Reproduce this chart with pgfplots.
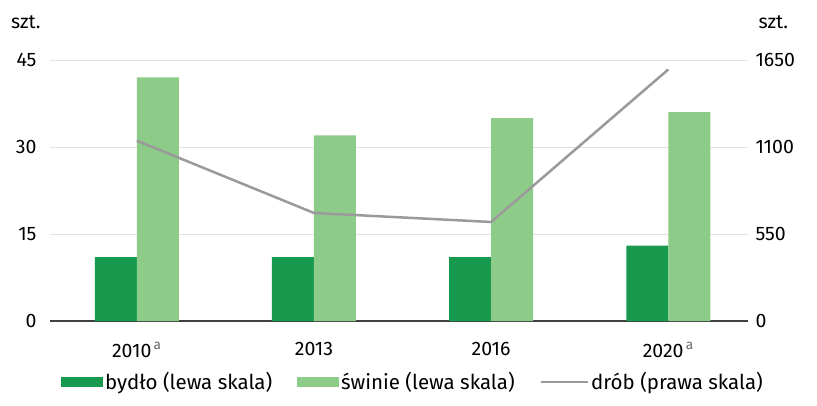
\documentclass[border=0pt]{standalone}
\usepackage{pgfplots}
\pgfplotsset{compat=1.18}
\usepackage{fontspec}
\setmainfont{Fira Sans}
\definecolor{dgreen}{HTML}{189A4E}
\definecolor{lgreen}{HTML}{8DCB88}
\definecolor{lgray}{HTML}{9A9A9A}
\definecolor{gridc}{HTML}{E2E2E2}
\begin{document}
\begin{tikzpicture}
\pgfplotsset{
  every axis/.append style={
    scale only axis, width=698pt, height=261pt,
    xmin=-0.49, xmax=3.45,
    font=\fontsize{19.5}{23}\selectfont,
    /pgf/number format/assume math mode=true,
    /pgf/number format/1000 sep={},
  }
}
\begin{axis}[
  name=left,
  ymin=0, ymax=45, ytick={0,15,30,45},
  xtick={0,1,2,3},
  xticklabels={2010\textsuperscript{\,\color{black!60}a},2013,2016,2020\textsuperscript{\,\color{black!60}a}},
  axis x line*=bottom, axis y line*=left,
  axis line style={-},
  x axis line style={draw=black!75, line width=1.3pt},
  y axis line style={draw=none},
  major tick length=0pt,
  ymajorgrids, grid style={gridc, line width=1pt},
  yticklabel style={xshift=-10pt},
  xticklabel style={yshift=-18pt},
  ybar, bar width=42pt,
]
\addplot[fill=dgreen, draw=none, bar shift=-21pt] coordinates {(0,11) (1,11) (2,11) (3,13)};
\addplot[fill=lgreen, draw=none, bar shift=21pt] coordinates {(0,42) (1,32) (2,35) (3,36)};
\end{axis}
\begin{axis}[
  name=right,
  ymin=0, ymax=1650, ytick={0,550,1100,1650},
  axis y line*=right, axis x line=none,
  axis line style={draw=none},
  major tick length=0pt,
  yticklabel style={xshift=4pt},
  legend columns=3,
  legend style={at={(0.52,-0.234)}, anchor=center, draw=none, fill=none,
    font=\fontsize{20.5}{24}\selectfont,
    /tikz/every even column/.append style={column sep=23pt}},
  legend cell align=left,
]
\addlegendimage{area legend, fill=dgreen, draw=none,
  legend image code/.code={\fill[dgreen] (0pt,-5pt) rectangle (42pt,5pt);}}
\addlegendentry{bydło (lewa skala)}
\addlegendimage{area legend, fill=lgreen, draw=none,
  legend image code/.code={\fill[lgreen] (0pt,-5pt) rectangle (42pt,5pt);}}
\addlegendentry{świnie (lewa skala)}
\addplot[lgray, line width=2.5pt, no marks,
  legend image code/.code={\draw[lgray, line width=2.5pt] (0pt,0pt) -- (47pt,0pt);}]
  coordinates {(0,1140) (1,683) (2,626) (3,1590)};
\addlegendentry{drób (prawa skala)}
\end{axis}
\node[anchor=east, font=\fontsize{19.5}{23}\selectfont] at ([xshift=-6pt,yshift=38pt]left.north west) {szt.};
\node[anchor=west, font=\fontsize{19.5}{23}\selectfont] at ([xshift=7pt,yshift=38pt]right.north east) {szt.};
\pgfresetboundingbox
\path ([xshift=-50pt,yshift=-84pt]left.south west) rectangle ++(817pt,405pt);
\end{tikzpicture}
\end{document}
